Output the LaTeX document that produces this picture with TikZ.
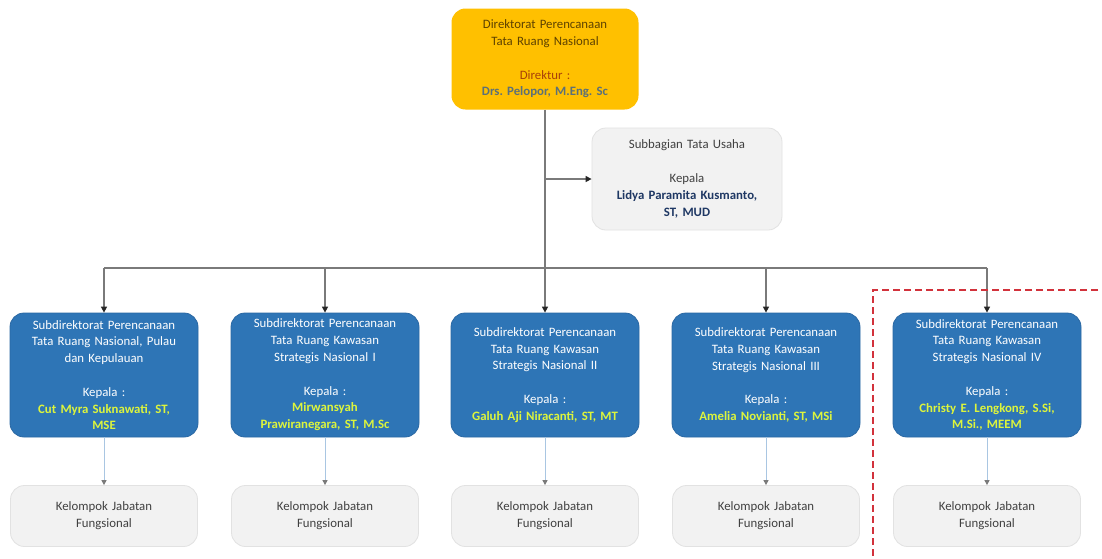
\documentclass[tikz,border=0pt]{standalone}
\usepackage{fontspec}
\setmainfont{Carlito}
\frenchspacing
\usetikzlibrary{arrows.meta}
\definecolor{gold}{HTML}{FFC000}
\definecolor{goldtext}{HTML}{5E4200}
\definecolor{dirred}{HTML}{A8400A}
\definecolor{dirname}{HTML}{5C7078}
\definecolor{bluebox}{HTML}{2E75B6}
\definecolor{blueedge}{HTML}{2A68A3}
\definecolor{namegreen}{HTML}{DDF53C}
\definecolor{greybox}{HTML}{F2F2F2}
\definecolor{greyedge}{HTML}{E2E2E2}
\definecolor{navy}{HTML}{1F3864}
\definecolor{darktext}{HTML}{404040}
\definecolor{conngrey}{HTML}{7A7A7A}
\definecolor{lightconn}{HTML}{A9C6E2}
\definecolor{dashred}{HTML}{D2323C}
\tikzset{
  base/.style={rectangle, rounded corners=14pt, align=center, inner sep=0pt,
    font=\fontsize{12.8}{16.8}\selectfont},
  topbox/.style={base, fill=gold, minimum width=187pt, minimum height=101pt, text width=175pt, text=goldtext},
  subbox/.style={base, fill=greybox, draw=greyedge, line width=0.8pt, minimum width=190pt, minimum height=102pt, text width=178pt, text=darktext},
  bluebx/.style={base, fill=bluebox, draw=blueedge, line width=0.8pt, minimum width=188pt, minimum height=124pt, text width=178pt, text=white},
  greybx/.style={base, fill=greybox, draw=greyedge, line width=0.8pt, minimum width=187pt, minimum height=61pt, text width=175pt, text=darktext},
  conn/.style={draw=conngrey, line width=1.4pt},
  connarrow/.style={conn, -{Triangle[length=6pt,width=6pt,fill=black!85,color=black!85]}},
  lconn/.style={draw=lightconn, line width=1pt, -{Triangle[length=5pt,width=5pt,fill=conngrey,color=conngrey]}},
}
\newcommand{\gname}[1]{\textcolor{namegreen}{\textbf{#1}}}
\begin{document}
\begin{tikzpicture}[x=1pt,y=-1pt]
\clip (0,0) rectangle (1102,558);
\fill[white] (0,0) rectangle (1102,558);

\node[topbox] (top) at (545,59) {Direktorat Perencanaan\\Tata Ruang Nasional\\[16.8pt]
  \textcolor{dirred}{Direktur :}\\\textcolor{dirname}{\textbf{Drs. Pelopor, M.Eng. Sc}}};

\node[subbox] (sub) at (687,179) {Subbagian Tata Usaha\\[16.8pt]Kepala\\
  \textcolor{navy}{\textbf{Lidya Paramita Kusmanto,}}\\\textcolor{navy}{\textbf{ST, MUD}}};

\node[bluebx] (b1) at (104,375) {Subdirektorat Perencanaan\\Tata Ruang Nasional, Pulau\\dan Kepulauan\\[16.8pt]Kepala :\\\gname{Cut Myra Suknawati, ST,}\\\gname{MSE}};
\node[bluebx] (b2) at (325,375) {Subdirektorat Perencanaan\\Tata Ruang Kawasan\\Strategis Nasional I\\[16.8pt]Kepala :\\\gname{Mirwansyah}\\\gname{Prawiranegara, ST, M.Sc}};
\node[bluebx] (b3) at (545,375) {Subdirektorat Perencanaan\\Tata Ruang Kawasan\\Strategis Nasional II\\[16.8pt]Kepala :\\\gname{Galuh Aji Niracanti, ST, MT}};
\node[bluebx] (b4) at (766,375) {Subdirektorat Perencanaan\\Tata Ruang Kawasan\\Strategis Nasional III\\[16.8pt]Kepala :\\\gname{Amelia Novianti, ST, MSi}};
\node[bluebx] (b5) at (987,375) {Subdirektorat Perencanaan\\Tata Ruang Kawasan\\Strategis Nasional IV\\[16.8pt]Kepala :\\\gname{Christy E. Lengkong, S.Si,}\\\gname{M.Si., MEEM}};

\foreach \i/\x in {1/104,2/325,3/545,4/766,5/987}{
  \node[greybx] (g\i) at (\x,516) {Kelompok Jabatan\\Fungsional};
}

\coordinate (bar) at (545,268);
\draw[conn] (top.south) -- (bar);
\draw[connarrow] (top.south |- sub.west) -- (sub.west);
\draw[conn] (bar -| b1.north) -- (bar -| b5.north);
\foreach \i in {1,...,5}{
  \draw[connarrow] (bar -| b\i.north) -- (b\i.north);
  \draw[lconn] (b\i.south) -- (g\i.north);
}

\coordinate (redcorner) at (873,290);
\draw[dashred, line width=2.6pt, dash pattern=on 7pt off 4pt] (1120,290) -- (redcorner) -- (873,580);
\end{tikzpicture}
\end{document}
